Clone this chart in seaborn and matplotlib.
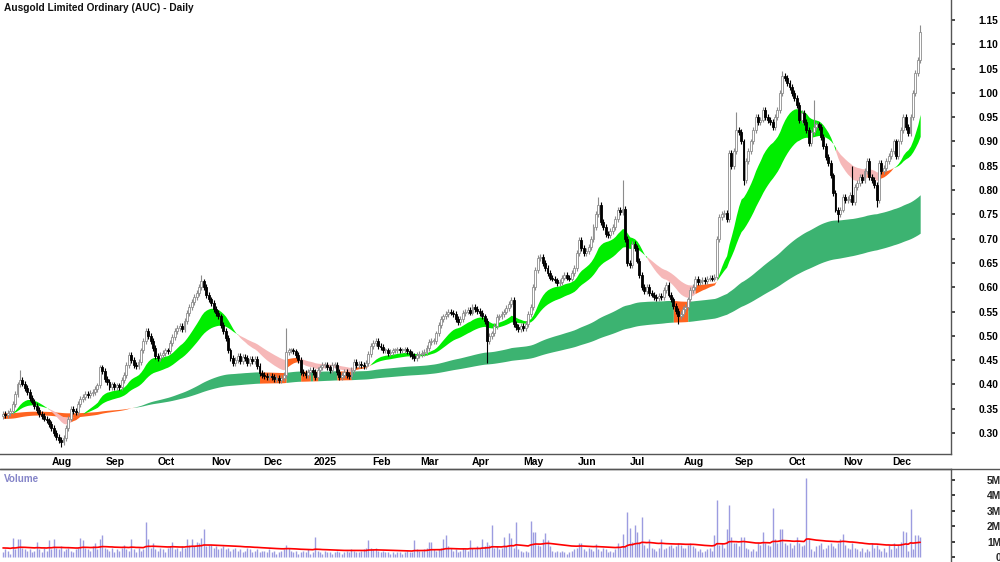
import numpy as np
import pandas as pd
import seaborn as sns
import matplotlib
matplotlib.use('Agg')
import matplotlib.pyplot as plt
from matplotlib.lines import Line2D

# daily closes, one list per month (Jul 2024 .. Dec 2025)
close_2024_07 = [0.340,0.338,0.342,0.345,0.360,0.380,0.400,0.410,0.402,0.392,0.385,0.372,0.365,0.355,0.347,0.340,0.336,0.330,0.326,0.318,0.310]
close_2024_08 = [0.300,0.292,0.285,0.282,0.290,0.310,0.330,0.350,0.345,0.343,0.360,0.370,0.375,0.380,0.378,0.382,0.385,0.390,0.398,0.435,0.428,0.412]
close_2024_09 = [0.405,0.395,0.400,0.395,0.398,0.395,0.410,0.420,0.440,0.460,0.450,0.440,0.438,0.446,0.470,0.490,0.510,0.500,0.490,0.475,0.458]
close_2024_10 = [0.455,0.460,0.464,0.470,0.468,0.485,0.497,0.510,0.516,0.520,0.515,0.530,0.547,0.560,0.570,0.580,0.588,0.600,0.612,0.600,0.584,0.575,0.567]
close_2024_11 = [0.555,0.547,0.540,0.522,0.510,0.495,0.470,0.455,0.444,0.450,0.458,0.448,0.456,0.454,0.445,0.452,0.448,0.452,0.438,0.423,0.420]
close_2024_12 = [0.418,0.416,0.418,0.415,0.412,0.413,0.410,0.413,0.420,0.466,0.470,0.470,0.468,0.460,0.450,0.425,0.423,0.420,0.425,0.430,0.425,0.415]
close_2025_01 = [0.430,0.435,0.440,0.440,0.435,0.430,0.440,0.440,0.425,0.415,0.420,0.425,0.420,0.418,0.430,0.446,0.440,0.442,0.440,0.438,0.445,0.462,0.480]
close_2025_02 = [0.485,0.490,0.480,0.477,0.470,0.470,0.465,0.466,0.470,0.470,0.472,0.470,0.470,0.472,0.468,0.463,0.458,0.454,0.460,0.463]
close_2025_03 = [0.465,0.466,0.475,0.487,0.490,0.490,0.505,0.522,0.535,0.540,0.545,0.550,0.548,0.545,0.535,0.528,0.535,0.547,0.550,0.553,0.548]
close_2025_04 = [0.560,0.555,0.552,0.547,0.540,0.530,0.490,0.500,0.505,0.520,0.538,0.540,0.545,0.550,0.557,0.565,0.574,0.525,0.518,0.515,0.520,0.516]
close_2025_05 = [0.525,0.545,0.560,0.600,0.635,0.660,0.662,0.650,0.640,0.630,0.620,0.618,0.614,0.608,0.610,0.620,0.625,0.620,0.618,0.630,0.640,0.670]
close_2025_06 = [0.697,0.680,0.670,0.675,0.683,0.700,0.724,0.750,0.770,0.735,0.724,0.710,0.707,0.715,0.724,0.740,0.760,0.755,0.762,0.700,0.650]
close_2025_07 = [0.645,0.690,0.680,0.655,0.625,0.600,0.592,0.600,0.588,0.585,0.580,0.578,0.582,0.580,0.595,0.605,0.585,0.575,0.562,0.552,0.540,0.545,0.555]
close_2025_08 = [0.560,0.575,0.594,0.600,0.618,0.610,0.612,0.615,0.612,0.618,0.620,0.618,0.622,0.700,0.745,0.750,0.753,0.740,0.876,0.850,0.880]
close_2025_09 = [0.923,0.920,0.900,0.820,0.860,0.880,0.900,0.923,0.950,0.940,0.945,0.965,0.950,0.944,0.940,0.930,0.950,0.965,1.000,1.035,1.030,1.020]
close_2025_10 = [1.012,1.000,0.990,0.975,0.944,0.958,0.940,0.923,0.896,0.920,0.930,0.935,0.930,0.910,0.890,0.868,0.855,0.830,0.794,0.760,0.750,0.760,0.786]
close_2025_11 = [0.780,0.782,0.790,0.775,0.806,0.814,0.827,0.820,0.840,0.860,0.827,0.820,0.810,0.780,0.855,0.840,0.845,0.860,0.870,0.880]
close_2025_12 = [0.900,0.870,0.900,0.923,0.950,0.930,0.918,0.950,1.000,1.040,1.067,1.125]

# daily volume in millions
vol_2024_07 = [0.3,0.5,0.4,0.2,1.25,0.5,1.2,1.2,0.6,0.5,0.4,0.5,0.3,0.4,0.95,0.5,0.3,0.6,0.4,1.1,0.5]
vol_2024_08 = [1.2,0.6,0.5,0.7,0.4,0.5,0.6,0.4,0.3,0.5,0.6,1.25,1.1,0.6,0.5,0.4,0.7,0.9,0.5,1.2,1.4,0.6]
vol_2024_09 = [0.5,0.4,0.6,0.3,0.5,0.4,0.6,0.8,0.5,0.4,1.2,0.5,0.3,0.6,0.4,0.5,2.3,1.2,0.6,0.9,0.5]
vol_2024_10 = [0.4,0.6,0.5,0.3,0.6,0.7,1.0,0.5,0.6,0.4,0.7,0.6,1.2,0.8,1.2,0.7,1.0,0.9,1.25,1.8,0.7,0.8,0.8]
vol_2024_11 = [0.6,0.7,0.5,0.6,0.7,0.5,0.6,0.4,0.5,0.6,0.4,0.5,0.3,0.4,0.6,0.5,0.3,0.4,0.5,0.3,0.4]
vol_2024_12 = [0.4,0.3,0.5,0.3,0.4,0.2,0.3,0.4,0.5,0.8,0.6,0.4,0.3,0.4,0.2,0.3,0.4,0.3,0.5,0.2,0.3,1.3]
vol_2025_01 = [0.4,0.3,0.2,0.4,0.3,0.3,0.2,0.3,0.4,0.3,0.2,0.3,0.4,0.3,0.5,0.4,0.3,0.3,0.4,0.5,0.6,1.1,0.6]
vol_2025_02 = [0.5,0.6,0.4,0.3,0.4,0.3,0.3,0.2,0.3,0.2,0.3,0.3,0.2,0.3,0.4,0.3,0.3,1.1,0.5,0.4]
vol_2025_03 = [0.4,0.5,0.6,1.0,1.0,0.5,0.4,0.5,0.6,1.2,1.4,0.7,0.6,0.4,0.5,0.3,0.4,0.6,0.5,0.4,1.1]
vol_2025_04 = [0.6,0.5,0.7,0.6,1.2,0.7,1.0,0.8,2.05,0.6,0.7,0.5,0.6,1.3,0.7,1.55,1.25,0.6,2.3,0.5,0.4,0.3]
vol_2025_05 = [0.4,0.3,2.35,1.6,1.6,0.8,0.7,1.2,1.55,1.1,0.7,0.4,0.3,0.4,0.3,0.4,0.3,0.2,0.3,0.4,0.5,0.6]
vol_2025_06 = [0.9,0.9,0.5,0.4,0.6,0.5,0.4,0.85,0.5,0.4,0.6,0.5,0.3,0.4,0.3,0.5,0.9,0.6,1.5,0.7,2.9]
vol_2025_07 = [1.9,1.0,2.1,1.6,1.0,2.6,0.8,0.6,1.2,0.6,0.5,0.4,0.6,1.2,0.5,0.6,0.7,0.8,0.6,0.7,0.9,0.8,0.6]
vol_2025_08 = [0.6,0.8,0.9,0.7,0.6,0.4,0.5,0.3,0.4,0.5,0.6,0.4,1.4,3.7,0.8,0.9,0.6,1.8,3.4,1.3,0.9]
vol_2025_09 = [0.9,0.7,1.3,1.3,0.6,0.5,0.4,0.5,0.4,0.9,0.8,1.6,0.9,0.8,0.7,3.2,1.2,0.9,1.8,1.8,0.9,0.8]
vol_2025_10 = [0.9,0.6,0.8,1.3,0.9,0.7,0.8,5.15,1.2,0.5,0.4,0.7,0.8,0.9,0.5,0.6,0.8,0.9,0.7,0.6,0.9,1.2,1.5]
vol_2025_11 = [0.8,0.6,0.5,0.9,0.6,0.5,0.4,0.6,0.3,0.5,0.4,0.9,0.6,0.8,0.5,0.4,0.6,0.3,0.8,0.5]
vol_2025_12 = [0.9,0.6,0.8,1.0,1.7,1.6,0.4,3.1,0.5,1.4,1.4,1.3]

# long shadows (bar index, price)
spike_high_idx = [7, 82, 117, 246, 256, 303, 322, 335, 351, 379]
spike_high_val = [0.430, 0.625, 0.516, 0.785, 0.820, 0.960, 1.045, 0.985, 0.850, 1.140]
spike_low_idx = [24, 200, 279, 306, 345, 361]
spike_low_val = [0.272, 0.445, 0.525, 0.810, 0.735, 0.765]

month_labels = ['Aug', 'Sep', 'Oct', 'Nov', 'Dec', '2025', 'Feb', 'Mar', 'Apr',
                'May', 'Jun', 'Jul', 'Aug', 'Sep', 'Oct', 'Nov', 'Dec']

months_close = [close_2024_07, close_2024_08, close_2024_09, close_2024_10, close_2024_11,
                close_2024_12, close_2025_01, close_2025_02, close_2025_03, close_2025_04,
                close_2025_05, close_2025_06, close_2025_07, close_2025_08, close_2025_09,
                close_2025_10, close_2025_11, close_2025_12]
months_vol = [vol_2024_07, vol_2024_08, vol_2024_09, vol_2024_10, vol_2024_11, vol_2024_12,
              vol_2025_01, vol_2025_02, vol_2025_03, vol_2025_04, vol_2025_05, vol_2025_06,
              vol_2025_07, vol_2025_08, vol_2025_09, vol_2025_10, vol_2025_11, vol_2025_12]

close = np.concatenate(months_close)
vol = np.concatenate(months_vol)
n = len(close)
idx = np.arange(n)
month_start = np.cumsum([0] + [len(m) for m in months_close])[1:-1]

opn = np.r_[close[0] - 0.004, close[:-1]]
high = np.maximum(opn, close) + 0.006
low = np.minimum(opn, close) - 0.006
high[spike_high_idx] = spike_high_val
low[spike_low_idx] = spike_low_val


def ema(vals, span, seed):
    a = 2.0 / (span + 1)
    out = []
    e = seed
    for v in vals:
        e = e + a * (v - e)
        out.append(e)
    return np.array(out)


fast_s = ema(close, 17, 0.340)
slow_s = ema(close, 35, 0.340)
fast_l = ema(close, 150, 0.330)
slow_l = ema(close, 250, 0.342)
vol_ma = ema(vol, 50, 0.6)

GREEN = '#00ee00'
ORANGE = '#ff6420'
PINK = '#f6b8b8'
LGREEN = '#3cb371'

short_col = []
for i in range(n):
    if fast_s[i] >= slow_s[i]:
        short_col.append(GREEN)
    elif i > 0 and slow_s[i] > slow_s[i - 1]:
        short_col.append(ORANGE)
    else:
        short_col.append(PINK)
long_col = [LGREEN if (close[i] >= fast_l[i] and fast_l[i] >= slow_l[i]) else ORANGE for i in range(n)]

sns.set_theme(style='white')
plt.rcParams['font.family'] = ['Liberation Sans', 'DejaVu Sans']

fig = plt.figure(figsize=(10, 5.62), dpi=100)
ax = fig.add_axes([0.0, 108 / 562, 0.951, 454 / 562])
axv = fig.add_axes([0.0, 0.0, 0.951, 93 / 562])


def ribbon(a, b, cols):
    start = 0
    for i in range(1, n + 1):
        if i == n or cols[i] != cols[start]:
            sl = slice(start, min(i + 1, n))
            ax.fill_between(idx[sl], a[sl], b[sl], color=cols[start], lw=0, zorder=1)
            start = i


ribbon(fast_l, slow_l, long_col)
ribbon(fast_s, slow_s, short_col)

up = close >= opn
ax.vlines(idx[up], low[up], high[up], color='#8c8c8c', lw=0.8, zorder=3)
ax.vlines(idx[~up], low[~up], high[~up], color='black', lw=0.8, zorder=3)
body = np.maximum(np.abs(close - opn), 0.002)
ax.bar(idx[up], body[up], bottom=np.minimum(opn, close)[up], width=0.8,
       color='white', edgecolor='#8c8c8c', lw=0.6, zorder=4)
ax.bar(idx[~up], body[~up], bottom=np.minimum(opn, close)[~up], width=0.8,
       color='black', edgecolor='black', lw=0.6, zorder=4)

xmin, xmax = -3 / 2.42, 948 / 2.42
ax.set_xlim(xmin, xmax)
ax.set_ylim(0.257, 1.191)

ax.yaxis.tick_right()
yt = np.round(np.arange(0.30, 1.151, 0.05), 2)
ax.set_yticks(yt)
ax.set_yticklabels([f'{v:.2f}' for v in yt])
ax.tick_params(axis='y', direction='out', length=3, pad=31, labelsize=7.4, colors='#333333')
for lbl in ax.get_yticklabels():
    lbl.set_ha('right')
    lbl.set_fontweight('bold')
    lbl.set_color('black')

ax.set_xticks(month_start)
ax.set_xticklabels([])
ax.set_xticks(month_start + 3.3, minor=True)
ax.set_xticklabels(month_labels, minor=True, fontweight='bold', fontsize=7.5)
ax.tick_params(axis='x', which='major', direction='in', length=4, color='#555555')
ax.tick_params(axis='x', which='minor', length=0, pad=2, labelcolor='black')

for s in ['left', 'top']:
    ax.spines[s].set_visible(False)
for s in ['right', 'bottom']:
    ax.spines[s].set_color('#555555')
    ax.spines[s].set_linewidth(1)
ax.grid(False)

# volume panel
axv.vlines(idx, 0, vol, color='#9c9ce0', lw=1.0, zorder=2)
sns.lineplot(x=idx, y=vol_ma, ax=axv, color='#ff0000', lw=1.2, zorder=3)
axv.set_xlim(xmin, xmax)
axv.set_ylim(-5 / 15.4, 88 / 15.4)
axv.yaxis.tick_right()
axv.set_yticks([0, 1, 2, 3, 4, 5])
axv.set_yticklabels(['0', '1M', '2M', '3M', '4M', '5M'])
axv.tick_params(axis='y', direction='out', length=3, pad=33, labelsize=7.4)
for lbl in axv.get_yticklabels():
    lbl.set_ha('right')
    lbl.set_fontweight('bold')
axv.set_xticks([])
axv.set_ylabel('')
for s in ['left', 'bottom']:
    axv.spines[s].set_visible(False)
for s in ['right', 'top']:
    axv.spines[s].set_color('#555555')
    axv.spines[s].set_linewidth(1)
axv.grid(False)

fig.add_artist(Line2D([0, 1], [1 - 469 / 562] * 2, color='#555555', lw=1))

fig.text(0.004, 1 - 8 / 562, 'Ausgold Limited Ordinary (AUC) - Daily', fontsize=7.3,
         fontweight='bold', va='center', ha='left', color='#111111')
axv.text(0.004, 1 - 10 / 93, 'Volume', transform=axv.transAxes, fontsize=7.1,
         fontweight='bold', color='#8484c8', va='center', ha='left')

fig.savefig('out.png', dpi=100)
